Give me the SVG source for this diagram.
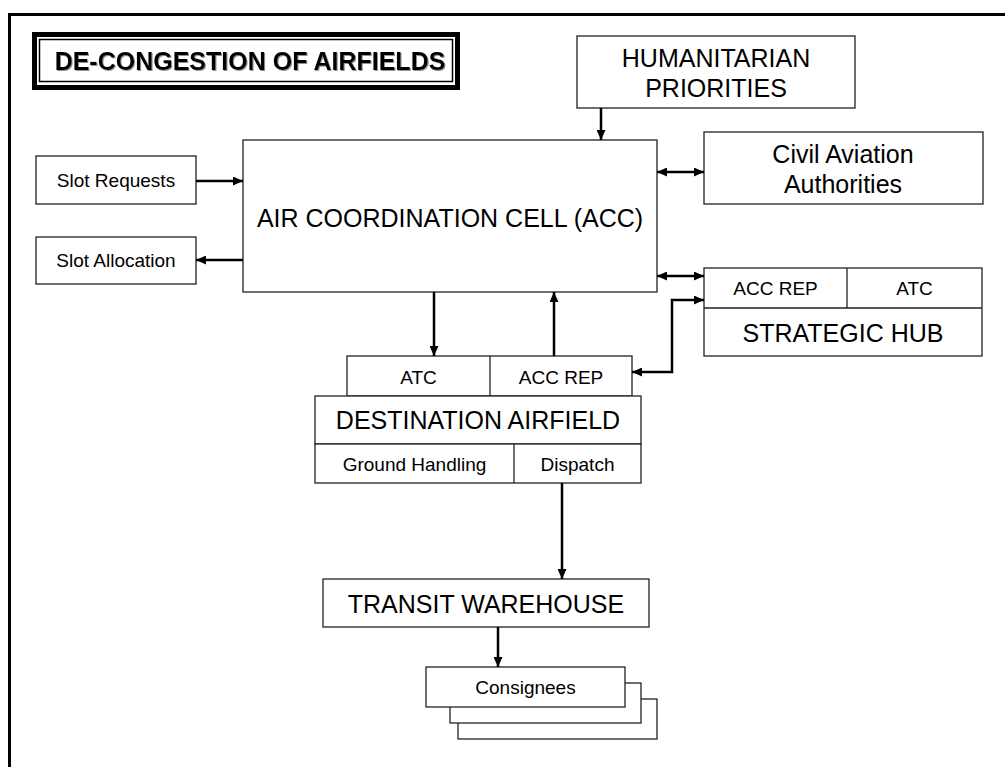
<svg xmlns="http://www.w3.org/2000/svg" width="1005" height="767" viewBox="0 0 1005 767">
<style>
text{font-family:"Liberation Sans",Arial,sans-serif;fill:#000;text-anchor:middle}
.big{font-size:25px}
.sm{font-size:19px}
.box{fill:#fff;stroke:#222;stroke-width:1.3}
.ln{fill:none;stroke:#000;stroke-width:2.5}
</style>
<defs>
<marker id="ah" viewBox="0 0 10 9" refX="10" refY="4.5" markerWidth="10" markerHeight="9" markerUnits="userSpaceOnUse" orient="auto-start-reverse">
<path d="M0,0 L10,4.5 L0,9 z" fill="#000"/>
</marker>
<filter id="sh" x="-5%" y="-20%" width="110%" height="140%">
<feDropShadow dx="1" dy="1" stdDeviation="0.7" flood-color="#777" flood-opacity="0.8"/>
</filter>
</defs>
<rect x="0" y="0" width="1005" height="767" fill="#fff"/>
<rect x="9.5" y="14.5" width="1010" height="770" fill="none" stroke="#000" stroke-width="3"/>

<g id="title">
<rect x="34.5" y="34.5" width="423" height="53" fill="#fff" stroke="#000" stroke-width="5"/>
<rect x="39.5" y="39.5" width="413" height="42" fill="none" stroke="#000" stroke-width="1.5"/>
<text x="250" y="69.5" font-size="25" font-weight="bold" filter="url(#sh)">DE-CONGESTION OF AIRFIELDS</text>
</g>

<g id="humanitarian">
<rect class="box" x="577" y="36" width="278" height="72"/>
<text class="big" x="716" y="66.5">HUMANITARIAN</text>
<text class="big" x="716" y="96.5">PRIORITIES</text>
</g>

<g id="civil">
<rect class="box" x="704" y="132" width="279" height="72"/>
<text class="big" x="843" y="163">Civil Aviation</text>
<text class="big" x="843" y="193">Authorities</text>
</g>

<g id="acc">
<rect class="box" x="243" y="140" width="414" height="152"/>
<text class="big" x="450" y="226.5">AIR COORDINATION CELL (ACC)</text>
</g>

<g id="slotreq">
<rect class="box" x="36" y="156" width="160" height="48"/>
<text class="sm" x="116" y="187">Slot Requests</text>
</g>

<g id="slotalloc">
<rect class="box" x="36" y="237" width="160" height="47"/>
<text class="sm" x="116" y="266.5">Slot Allocation</text>
</g>

<g id="hub">
<rect class="box" x="704" y="268" width="278" height="88"/>
<line x1="704" y1="308" x2="982" y2="308" stroke="#222" stroke-width="1.3"/>
<line x1="847" y1="268" x2="847" y2="308" stroke="#222" stroke-width="1.3"/>
<text class="sm" x="775.5" y="295">ACC REP</text>
<text class="sm" x="914.5" y="295">ATC</text>
<text class="big" x="843" y="341.5">STRATEGIC HUB</text>
</g>

<g id="destination">
<rect class="box" x="347" y="356" width="285" height="40"/>
<line x1="490" y1="356" x2="490" y2="396" stroke="#222" stroke-width="1.3"/>
<rect class="box" x="315" y="396" width="326" height="48"/>
<rect class="box" x="315" y="444" width="326" height="39"/>
<line x1="514" y1="444" x2="514" y2="483" stroke="#222" stroke-width="1.3"/>
<text class="sm" x="418.5" y="384">ATC</text>
<text class="sm" x="561" y="384">ACC REP</text>
<text class="big" x="478" y="429">DESTINATION AIRFIELD</text>
<text class="sm" x="414.5" y="471">Ground Handling</text>
<text class="sm" x="577.5" y="471">Dispatch</text>
</g>

<g id="transit">
<rect class="box" x="323" y="579" width="326" height="48"/>
<text class="big" x="486" y="612.5">TRANSIT WAREHOUSE</text>
</g>

<g id="consignees">
<rect class="box" x="458" y="699" width="199" height="40"/>
<rect class="box" x="450" y="683" width="191" height="40"/>
<rect class="box" x="426" y="667" width="199" height="40"/>
<text class="sm" x="525.5" y="694">Consignees</text>
</g>

<g id="connectors">
<path class="ln" d="M601,108 L601,140" marker-end="url(#ah)"/>
<path class="ln" d="M657,172 L704,172" marker-start="url(#ah)" marker-end="url(#ah)"/>
<path class="ln" d="M196,181 L243,181" marker-end="url(#ah)"/>
<path class="ln" d="M243,260 L196,260" marker-end="url(#ah)"/>
<path class="ln" d="M657,276 L704,276" marker-start="url(#ah)" marker-end="url(#ah)"/>
<path class="ln" d="M632,372 L672,372 L672,300 L704,300" marker-start="url(#ah)" marker-end="url(#ah)"/>
<path class="ln" d="M434,292 L434,356" marker-end="url(#ah)"/>
<path class="ln" d="M554,356 L554,292" marker-end="url(#ah)"/>
<path class="ln" d="M562,483 L562,579" marker-end="url(#ah)"/>
<path class="ln" d="M498,627 L498,667" marker-end="url(#ah)"/>
</g>
</svg>
